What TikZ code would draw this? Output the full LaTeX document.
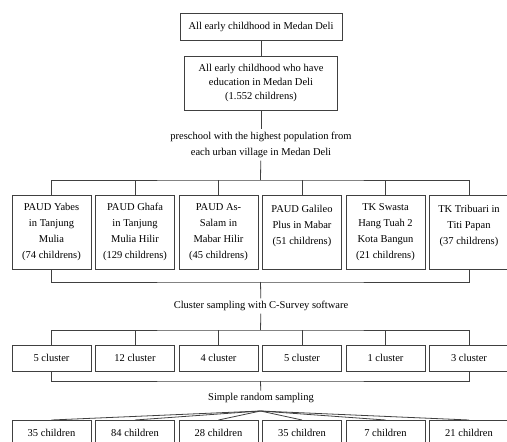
\documentclass[tikz,border=0pt]{standalone}
\usepackage{fontspec}
\setmainfont{Liberation Serif}

\begin{document}
\begin{tikzpicture}[x=1pt, y=-1pt,
  box/.style={draw=black!75, line width=0.8pt, align=center, inner sep=2pt, font=\fontsize{10.5}{14}\selectfont},
  sbox/.style={box, anchor=north, minimum width=79pt, minimum height=74pt, font=\fontsize{10.5}{16}\selectfont},
  cbox/.style={box, minimum width=79pt, minimum height=26pt},
  note/.style={align=center, inner sep=2.5pt, font=\fontsize{10.5}{16}\selectfont},
  line/.style={draw=black!75, line width=0.8pt}
]
\useasboundingbox (0,0) rectangle (507,442);

% population
\node[box, minimum width=162pt, minimum height=27pt] (all) at (261,26.5) {All early childhood in Medan Deli};
\node[box, minimum width=153pt, minimum height=54pt] (edu) at (261,83) {All early childhood who have\\education in Medan Deli\\(1.552 childrens)};
\node[note] (pre) at (261,145) {preschool with the highest population from\\each urban village in Medan Deli};

\draw[line] (all) -- (edu);
\draw[line] (edu) -- (pre);

% preschools
\node[sbox] (s1) at (51.5,195) {PAUD Yabes\\in Tanjung\\Mulia\\(74 childrens)};
\node[sbox] (s2) at (135,195) {PAUD Ghafa\\in Tanjung\\Mulia Hilir\\(129 childrens)};
\node[sbox] (s3) at (218.5,195) {PAUD As-\\Salam in\\Mabar Hilir\\(45 childrens)};
\node[sbox] (s4) at (302,195) {PAUD Galileo\\Plus in Mabar\\(51 childrens)\\~};
\node[sbox] (s5) at (385.5,195) {TK Swasta\\Hang Tuah 2\\Kota Bangun\\(21 childrens)};
\node[sbox] (s6) at (469,195) {TK Tribuari in\\Titi Papan\\(37 childrens)\\~};

\coordinate (b1) at (260.5,180);
\draw[line] (pre) -- (b1);
\draw[line] (s1.north) |- (b1) -| (s6.north);
\draw[line] (s2.north) -- (s2.north |- b1);
\draw[line] (s3.north) -- (s3.north |- b1);
\draw[line] (s4.north) -- (s4.north |- b1);
\draw[line] (s5.north) -- (s5.north |- b1);

\coordinate (b2) at (260.5,282);
\draw[line] (s1.south) |- (b2) -| (s6.south);
\node[note] (cs) at (261,306) {Cluster sampling with C-Survey software};
\draw[line] (b2) -- (cs);

% clusters
\node[cbox] (c1) at (51.5,358) {5 cluster};
\node[cbox] (c2) at (135,358) {12 cluster};
\node[cbox] (c3) at (218.5,358) {4 cluster};
\node[cbox] (c4) at (302,358) {5 cluster};
\node[cbox] (c5) at (385.5,358) {1 cluster};
\node[cbox] (c6) at (469,358) {3 cluster};

\coordinate (b3) at (260.5,330);
\draw[line] (cs) -- (b3);
\draw[line] (c1.north) |- (b3) -| (c6.north);
\draw[line] (c2.north) -- (c2.north |- b3);
\draw[line] (c3.north) -- (c3.north |- b3);
\draw[line] (c4.north) -- (c4.north |- b3);
\draw[line] (c5.north) -- (c5.north |- b3);

\coordinate (b4) at (260.5,381);
\draw[line] (c1.south) |- (b4) -| (c6.south);
\node[note] (srs) at (261,398) {Simple random sampling};
\draw[line] (b4) -- (srs);

% samples
\node[cbox, anchor=north] (r1) at (51.5,420) {35 children};
\node[cbox, anchor=north] (r2) at (135,420) {84 children};
\node[cbox, anchor=north] (r3) at (218.5,420) {28 children};
\node[cbox, anchor=north] (r4) at (302,420) {35 children};
\node[cbox, anchor=north] (r5) at (385.5,420) {7 children};
\node[cbox, anchor=north] (r6) at (469,420) {21 children};

\coordinate (fan) at (260.5,411);
\draw[line] (fan) -- (r1.north);
\draw[line] (fan) -- (r2.north);
\draw[line] (fan) -- (r3.north);
\draw[line] (fan) -- (r4.north);
\draw[line] (fan) -- (r5.north);
\draw[line] (fan) -- (r6.north);
\end{tikzpicture}
\end{document}
